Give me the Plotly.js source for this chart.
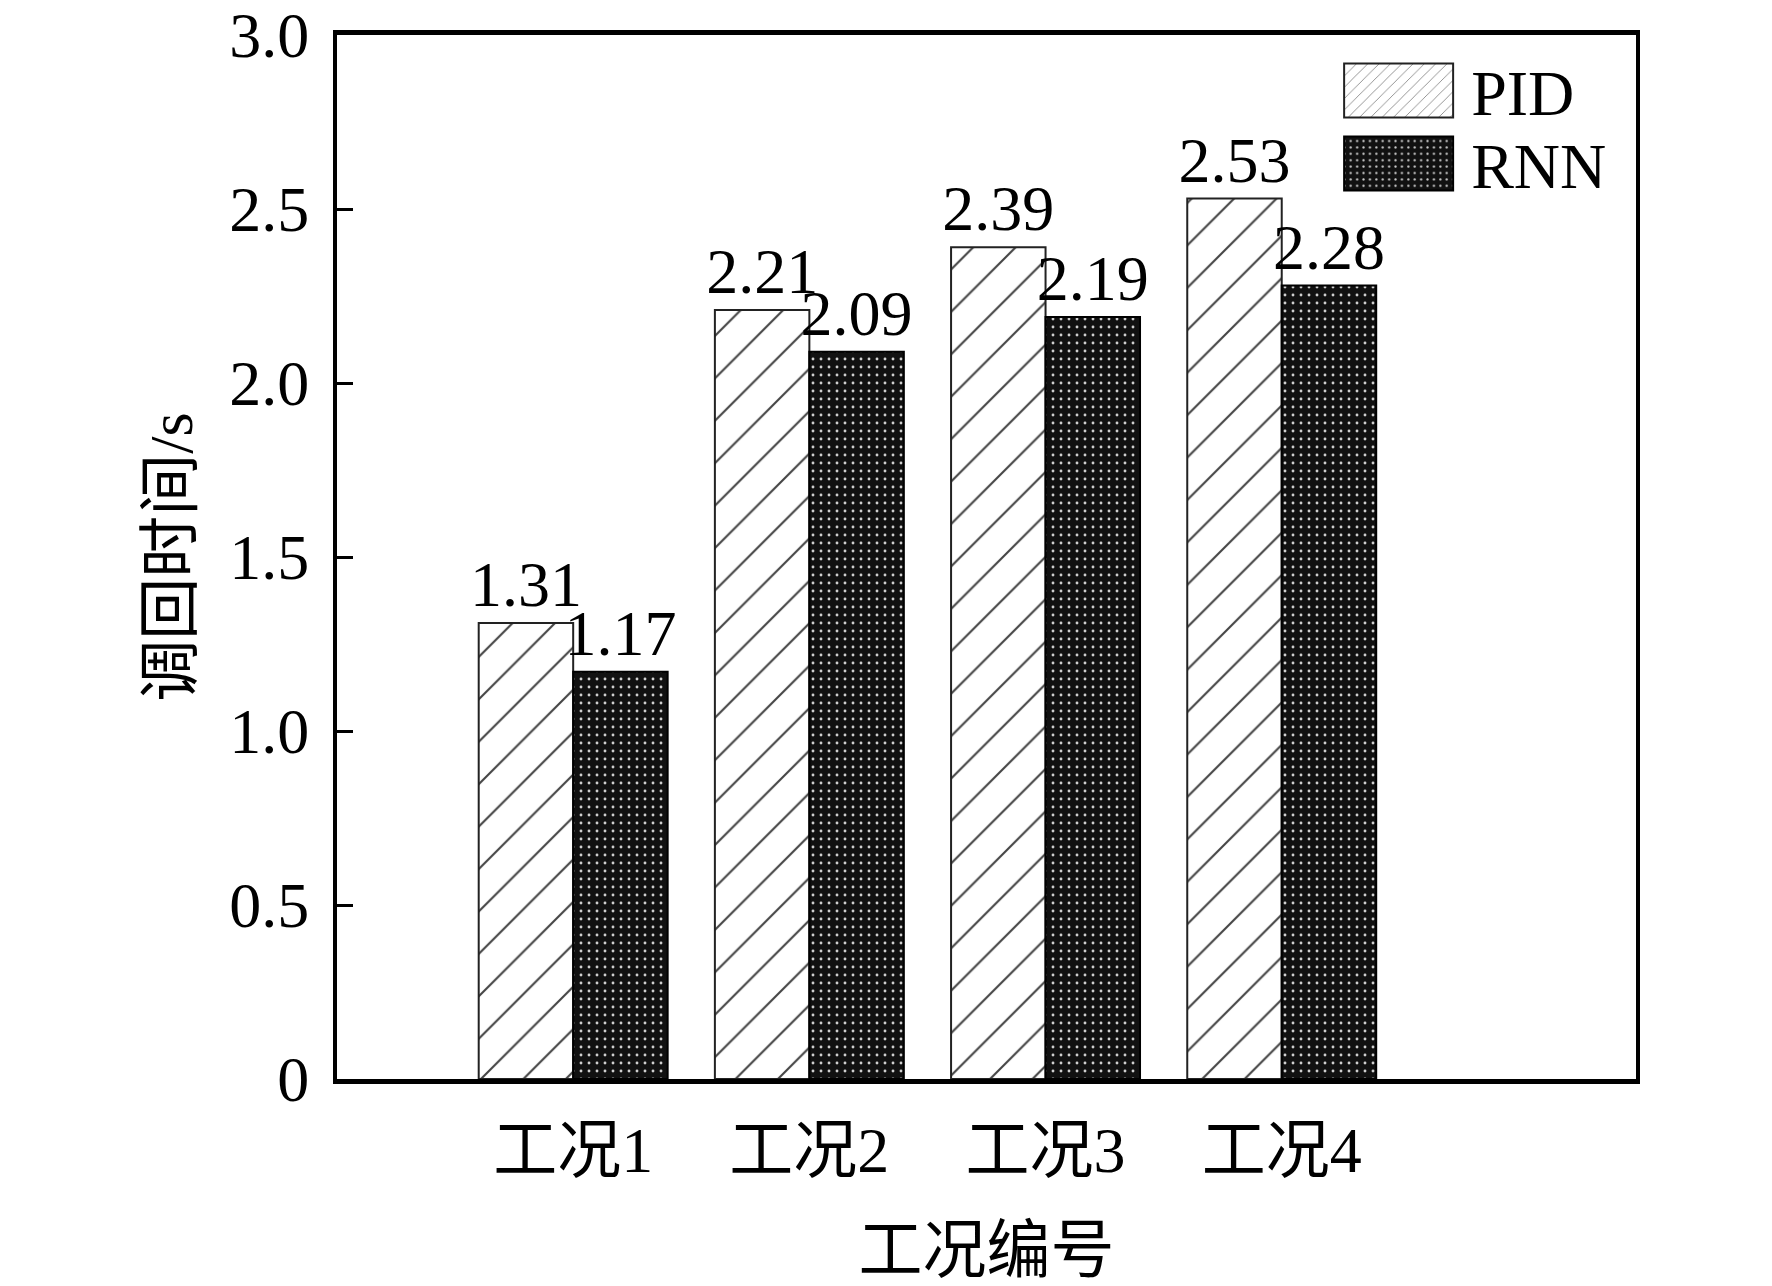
<!DOCTYPE html>
<html>
<head>
<meta charset="utf-8">
<script src="https://cdn.plot.ly/plotly-3.0.1.min.js"></script>
<style>
  html, body { margin: 0; padding: 0; background: #fff; }
  #chart { width: 1772px; height: 1286px; }
</style>
</head>
<body>
<div id="chart"></div>
<script>
// 调回时间 for each 工况, PID vs RNN
const cases = ["工况1", "工况2", "工况3", "工况4"];
const pidTimes = [1.31, 2.21, 2.39, 2.53];
const rnnTimes = [1.17, 2.09, 2.19, 2.28];
const yTickVals = [0, 0.5, 1.0, 1.5, 2.0, 2.5, 3.0];
const yTickText = ["0", "0.5", "1.0", "1.5", "2.0", "2.5", "3.0"];

const SERIF = "Liberation Serif, Times New Roman, Noto Sans CJK SC, serif";

const pid = {
	type: "bar",
	name: "PID",
	x: cases,
	y: pidTimes,
	texttemplate: "%{y:.2f}",
	textposition: "outside",
	constraintext: "none",
	cliponaxis: false,
	textfont: { family: SERIF, size: 64, color: "#000" },
	marker: {
		color: "#fff",
		line: { color: "#222", width: 2 },
		pattern: { shape: "/", size: 30, solidity: 0.07, fgcolor: "#444", bgcolor: "#fff", fillmode: "replace" },
	},
	hoverinfo: "skip",
};

const rnn = {
	type: "bar",
	name: "RNN",
	x: cases,
	y: rnnTimes,
	texttemplate: "%{y:.2f}",
	textposition: "outside",
	constraintext: "none",
	cliponaxis: false,
	textfont: { family: SERIF, size: 64, color: "#000" },
	marker: {
		color: "#111",
		line: { color: "#000", width: 2 },
		pattern: { shape: ".", size: 8, solidity: 0.1, fgcolor: "#cfcfcf", bgcolor: "#111", fillmode: "replace" },
	},
	hoverinfo: "skip",
};

const layout = {
	width: 1772,
	height: 1286,
	margin: { l: 337, r: 136, t: 35, b: 207 },
	paper_bgcolor: "#fff",
	plot_bgcolor: "#fff",
	font: { family: SERIF, color: "#000", size: 64 },
	barmode: "group",
	bargap: 0.2,
	bargroupgap: 0,
	showlegend: true,
	legend: {
		x: 0.773,
		y: 0.993,
		xanchor: "left",
		yanchor: "top",
		bgcolor: "rgba(0,0,0,0)",
		font: { family: SERIF, size: 64, color: "#000" },
		itemwidth: 120,
		traceorder: "normal",
	},
	xaxis: {
		type: "category",
		range: [-1, 4.5],
		showline: true,
		linecolor: "#000",
		linewidth: 5,
		mirror: true,
		ticks: "",
		showgrid: false,
		zeroline: false,
		ticklabelstandoff: 11,
		tickfont: { family: SERIF, size: 64, color: "#000" },
		title: { text: "工况编号", font: { family: SERIF, size: 64, color: "#000" }, standoff: 62 },
	},
	yaxis: {
		range: [0, 3],
		tickvals: yTickVals,
		ticktext: yTickText,
		ticks: "inside",
		ticklen: 16,
		tickwidth: 3,
		tickcolor: "#000",
		showline: true,
		linecolor: "#000",
		linewidth: 4,
		mirror: true,
		showgrid: false,
		zeroline: false,
		ticklabelstandoff: 11,
		tickfont: { family: SERIF, size: 64, color: "#000" },
		title: { text: "调回时间/s", font: { family: SERIF, size: 62, color: "#000" }, standoff: 18 },
	},
};

const gd = document.getElementById("chart");
Plotly.newPlot(gd, [pid, rnn], layout, { staticPlot: true, displayModeBar: false }).then(() => {
	// wide legend swatches and tighter rows, like the original figure
	let firstY = null;
	gd.querySelectorAll(".legend .traces").forEach((tr, i) => {
		const p = tr.querySelector(".legendpoints path");
		if (p) {
			p.setAttribute("d", "M3,-27H112V27H3Z");
			p.setAttribute("transform", "translate(0,0)");
		}
		const m = /translate\(([-\d.]+)[ ,]+([-\d.]+)\)/.exec(tr.getAttribute("transform") || "");
		if (m) {
			if (firstY === null) firstY = parseFloat(m[2]);
			tr.setAttribute("transform", `translate(${m[1]},${firstY + i * 73})`);
		}
	});
});
</script>
</body>
</html>
